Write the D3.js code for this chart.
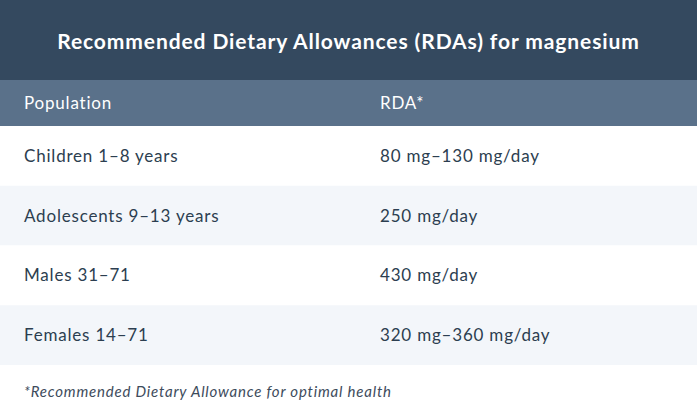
<!DOCTYPE html><html><head><meta charset="utf-8"><script src="https://cdn.jsdelivr.net/npm/d3@7"></script>
<style>body{margin:0;background:#fff}</style></head><body><svg id="c" width="697" height="417"></svg><script>
const title="Recommended Dietary Allowances (RDAs) for magnesium";
const headers=["Population","RDA*"];
const populations=["Children 1–8 years","Adolescents 9–13 years","Males 31–71","Females 14–71"];
const rdas=["80 mg–130 mg/day","250 mg/day","430 mg/day","320 mg–360 mg/day"];
const footnote="*Recommended Dietary Allowance for optimal health";
const svg=d3.select("#c"),F="Lato, 'Open Sans', sans-serif";
svg.append("rect").attr("width",697).attr("height",80).attr("fill","#34495f");
svg.append("text").attr("x",348.5).attr("y",49).attr("text-anchor","middle").attr("fill","#fff").attr("font-family",F).attr("font-weight","bold").attr("font-size",21).attr("letter-spacing",0.9).text(title);
svg.append("rect").attr("y",80).attr("width",697).attr("height",46).attr("fill","#5a718a");
const col=d3.scaleOrdinal().domain([0,1]).range([24,380]);
headers.forEach((h,i)=>svg.append("text").attr("x",col(i)).attr("y",109).attr("fill","#fff").attr("font-family",F).attr("font-size",17).attr("letter-spacing",0.8).text(h));
const y=d3.scaleBand().domain(d3.range(populations.length)).range([126,365]);
const g=svg.selectAll("g.r").data(populations).join("g").attr("transform",(d,i)=>`translate(0,${y(i)})`);
g.append("rect").attr("width",697).attr("height",y.bandwidth()).attr("fill",(d,i)=>i%2?"#f3f6fa":"#fff");
g.append("text").attr("x",col(0)).attr("y",y.bandwidth()/2+6).attr("fill","#2c3e50").attr("font-family",F).attr("font-size",17).attr("letter-spacing",0.8).text(d=>d);
g.append("text").attr("x",col(1)).attr("y",y.bandwidth()/2+6).attr("fill","#2c3e50").attr("font-family",F).attr("font-size",17).attr("letter-spacing",0.8).text((d,i)=>rdas[i]);
svg.append("text").attr("x",24).attr("y",397).attr("fill","#3d4b5c").attr("font-family",F).attr("font-style","italic").attr("font-size",15).attr("letter-spacing",0.8).text(footnote);
</script></body></html>
